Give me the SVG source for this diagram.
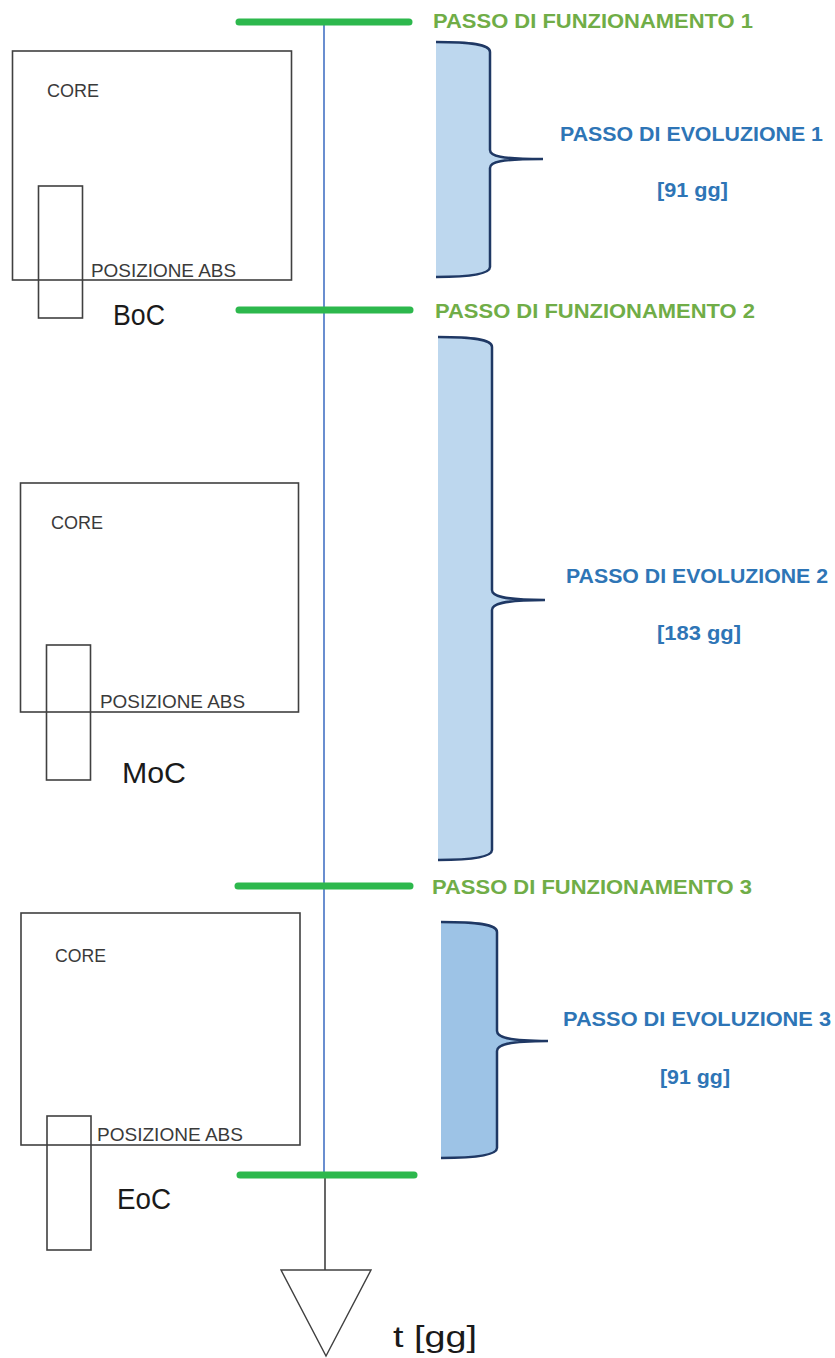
<svg xmlns="http://www.w3.org/2000/svg" width="835" height="1358" viewBox="0 0 835 1358">
<style>
.box{fill:none;stroke:#404040;stroke-width:1.6}
.lbl{font-family:"Liberation Sans",Arial,sans-serif;fill:#3a3a3a;font-size:18px}
.big{font-family:"Liberation Sans",Arial,sans-serif;fill:#1a1a1a;font-size:30px}
.fun{font-family:"Liberation Sans",Arial,sans-serif;font-weight:bold;fill:#70ad47;font-size:20px}
.evo{font-family:"Liberation Sans",Arial,sans-serif;font-weight:bold;fill:#2e75b6;font-size:20px}
.step{stroke:#2db84d;stroke-width:7;stroke-linecap:round}
.braceFill{stroke:none}
.braceLine{fill:none;stroke:#1f3864;stroke-width:2.5}
</style>
<rect width="835" height="1358" fill="#ffffff"/>
<g id="axis">
<line x1="324" y1="22" x2="324" y2="1176" stroke="#4472c4" stroke-width="1.6"/>
<line x1="325" y1="1176" x2="325" y2="1270" stroke="#404040" stroke-width="1.6"/>
<polygon points="281,1270 371,1270 326,1356" fill="#ffffff" stroke="#404040" stroke-width="1.4"/>
<text class="big" x="393" y="1347" font-size="34" textLength="84" lengthAdjust="spacingAndGlyphs">t [gg]</text>
</g>
<g id="connectors">
<line class="step" x1="239" y1="22" x2="409" y2="22"/>
<line class="step" x1="239" y1="310" x2="410" y2="310"/>
<line class="step" x1="238" y1="886" x2="410" y2="886"/>
<line class="step" x1="240" y1="1175" x2="414" y2="1175"/>
</g>
<g id="fun1"><text class="fun" x="433" y="28" textLength="320" lengthAdjust="spacingAndGlyphs">PASSO DI FUNZIONAMENTO 1</text></g>
<g id="fun2"><text class="fun" x="435" y="318" textLength="320" lengthAdjust="spacingAndGlyphs">PASSO DI FUNZIONAMENTO 2</text></g>
<g id="fun3"><text class="fun" x="432" y="894" textLength="320" lengthAdjust="spacingAndGlyphs">PASSO DI FUNZIONAMENTO 3</text></g>
<g id="evo1">
<path class="braceFill" fill="#bdd7ee" d="M436,42 C470,42 490,44 490,52 L490,150 C490,156 500,159 543,159 C500,159 490,162 490,168 L490,267 C490,274 470,277 436,277 Z"/>
<path class="braceLine" d="M436,42 C470,42 490,44 490,52 L490,150 C490,156 500,159 543,159 C500,159 490,162 490,168 L490,267 C490,274 470,277 436,277"/>
<text class="evo" x="560" y="141" textLength="263" lengthAdjust="spacingAndGlyphs">PASSO DI EVOLUZIONE 1</text>
<text class="evo" x="657" y="197" textLength="71" lengthAdjust="spacingAndGlyphs">[91 gg]</text>
</g>
<g id="evo2">
<path class="braceFill" fill="#bdd7ee" d="M438,337 C472,337 492,339 492,347 L492,590 C492,596 502,600 545,600 C502,600 492,604 492,610 L492,850 C492,857 472,860 438,860 Z"/>
<path class="braceLine" d="M438,337 C472,337 492,339 492,347 L492,590 C492,596 502,600 545,600 C502,600 492,604 492,610 L492,850 C492,857 472,860 438,860"/>
<text class="evo" x="566" y="583" textLength="262" lengthAdjust="spacingAndGlyphs">PASSO DI EVOLUZIONE 2</text>
<text class="evo" x="657" y="640" textLength="84" lengthAdjust="spacingAndGlyphs">[183 gg]</text>
</g>
<g id="evo3">
<path class="braceFill" fill="#9dc3e6" d="M441,922 C477,922 497,924 497,932 L497,1031 C497,1037 507,1041 548,1041 C507,1041 497,1045 497,1051 L497,1148 C497,1155 477,1158 441,1158 Z"/>
<path class="braceLine" d="M441,922 C477,922 497,924 497,932 L497,1031 C497,1037 507,1041 548,1041 C507,1041 497,1045 497,1051 L497,1148 C497,1155 477,1158 441,1158"/>
<text class="evo" x="563" y="1026" textLength="268" lengthAdjust="spacingAndGlyphs">PASSO DI EVOLUZIONE 3</text>
<text class="evo" x="660" y="1084" textLength="70" lengthAdjust="spacingAndGlyphs">[91 gg]</text>
</g>
<g id="core-boc">
<rect class="box" x="12.5" y="51" width="279" height="229"/>
<rect class="box" x="38.5" y="186" width="44" height="132"/>
<text class="lbl" x="47" y="97" textLength="52" lengthAdjust="spacingAndGlyphs">CORE</text>
<text class="lbl" x="91" y="277" textLength="145" lengthAdjust="spacingAndGlyphs">POSIZIONE ABS</text>
<text class="big" x="113" y="325" textLength="52" lengthAdjust="spacingAndGlyphs">BoC</text>
</g>
<g id="core-moc">
<rect class="box" x="20.5" y="483" width="278" height="229"/>
<rect class="box" x="46.5" y="645" width="44" height="135"/>
<text class="lbl" x="51" y="529" textLength="52" lengthAdjust="spacingAndGlyphs">CORE</text>
<text class="lbl" x="100" y="708" textLength="145" lengthAdjust="spacingAndGlyphs">POSIZIONE ABS</text>
<text class="big" x="122" y="783" textLength="64" lengthAdjust="spacingAndGlyphs">MoC</text>
</g>
<g id="core-eoc">
<rect class="box" x="21" y="913" width="279" height="232"/>
<rect class="box" x="47" y="1116" width="44" height="134"/>
<text class="lbl" x="55" y="962" textLength="51" lengthAdjust="spacingAndGlyphs">CORE</text>
<text class="lbl" x="97" y="1141" textLength="146" lengthAdjust="spacingAndGlyphs">POSIZIONE ABS</text>
<text class="big" x="117" y="1209" textLength="54" lengthAdjust="spacingAndGlyphs">EoC</text>
</g>
</svg>
